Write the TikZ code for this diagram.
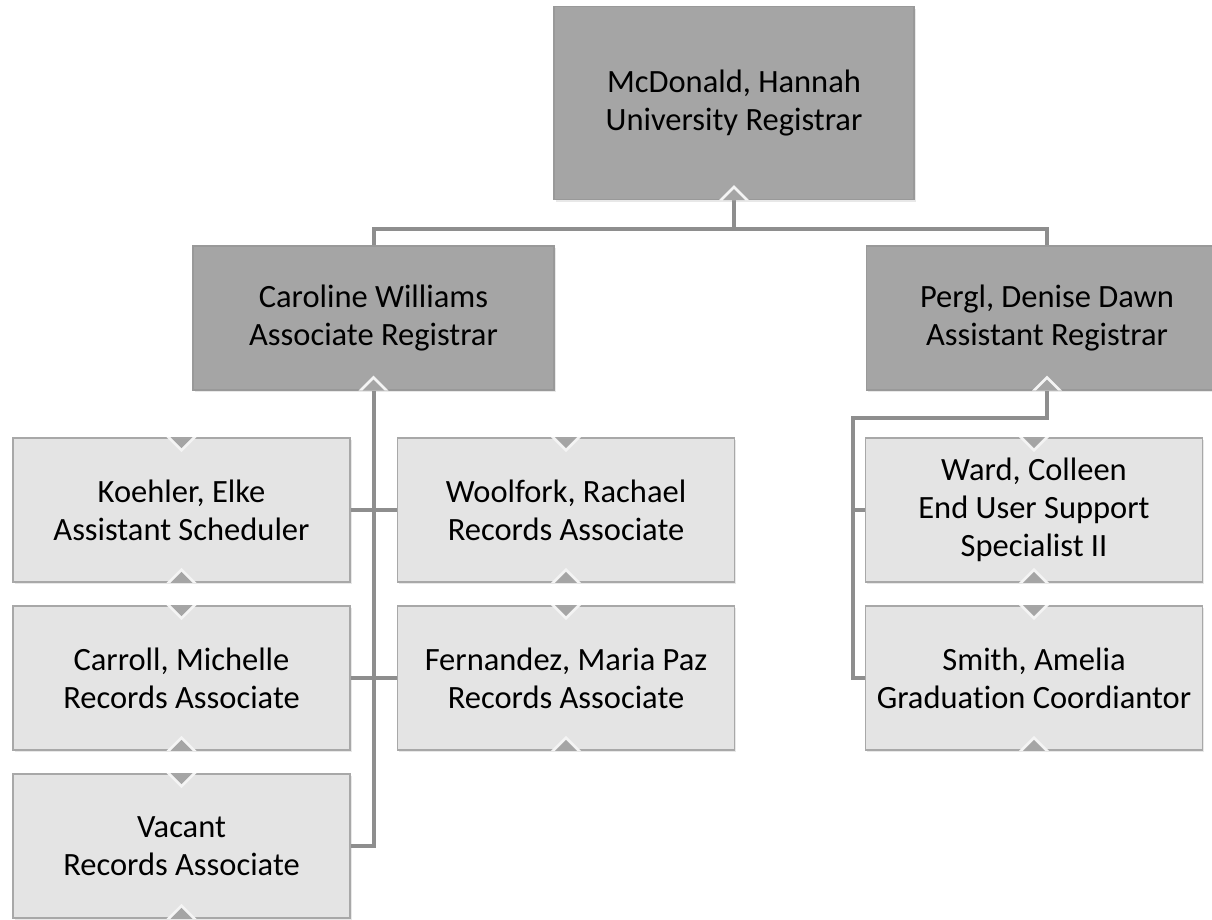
\documentclass[tikz,border=0pt]{standalone}
\usepackage{fontspec}
\setmainfont{Carlito}[Ligatures=NoCommon]
\usetikzlibrary{shadows}
\definecolor{topfill}{HTML}{A5A5A5}
\definecolor{topdraw}{HTML}{999999}
\definecolor{childfill}{HTML}{E4E4E4}
\definecolor{childdraw}{HTML}{A8A8A8}
\definecolor{linec}{HTML}{8E8E8E}
\definecolor{notchc}{HTML}{A5A5A5}
\definecolor{notchedge}{HTML}{F4F4F4}
\begin{document}
\begin{tikzpicture}[x=1pt,y=-1pt,
  box/.style={rectangle, align=center, font=\fontsize{32.5}{38}\selectfont, text=black, inner sep=0pt,
    drop shadow={shadow xshift=1.5pt, shadow yshift=-2pt, opacity=0.18}},
  topbox/.style={box, fill=topfill, draw=topdraw, line width=1.2pt, minimum width=361pt, minimum height=144pt},
  childbox/.style={box, fill=childfill, draw=childdraw, line width=1.8pt, minimum width=337pt, minimum height=144pt},
  conn/.style={draw=linec, line width=4pt},
]
\clip (0,0) rectangle (1212,919);
\fill[white] (0,0) rectangle (1212,919);

% connector points
\coordinate (bus) at (734,229);
\coordinate (pturn) at (1047,418);
\coordinate (pleft) at (853,418);

% boxes
\node[topbox, minimum width=360pt, minimum height=193pt] (mcd) at (734,103) {McDonald, Hannah\\University Registrar};
\node[topbox] (car) at (373.5,318) {Caroline Williams\\Associate Registrar};
\node[topbox] (per) at (1047,318) {Pergl, Denise Dawn\\Assistant Registrar};

\node[childbox] (koe) at (181.5,510) {Koehler, Elke\\Assistant Scheduler};
\node[childbox] (woo) at (566,510) {Woolfork, Rachael\\Records Associate};
\node[childbox] (carr) at (181.5,678) {Carroll, Michelle\\Records Associate};
\node[childbox] (fer) at (566,678) {Fernandez, Maria Paz\\Records Associate};
\node[childbox] (vac) at (181.5,846) {Vacant\\Records Associate};
\node[childbox] (war) at (1034,510) {Ward, Colleen\\End User Support\\Specialist II};
\node[childbox] (smi) at (1034,678) {Smith, Amelia\\Graduation Coordiantor};

% connector lines
\draw[conn] (mcd.south) -- (bus);
\draw[conn] (car.north) |- (bus) -| (per.north);
\draw[conn] (car.south) -- (car.south |- vac.east) -- (vac.east);
\draw[conn] (koe.east) -- (woo.west);
\draw[conn] (carr.east) -- (fer.west);
\draw[conn] (per.south) -- (pturn) -- (pleft) |- (smi.west);
\draw[conn] (pleft |- war.west) -- (war.west);

% notches: bottom (upward) on all boxes
\foreach \n in {mcd,car,per,koe,woo,carr,fer,vac,war,smi} {
  \fill[notchedge] ([xshift=-15pt]\n.south) -- ([yshift=15pt]\n.south) -- ([xshift=15pt]\n.south) -- cycle;
  \fill[notchc] ([xshift=-11pt]\n.south) -- ([yshift=11pt]\n.south) -- ([xshift=11pt]\n.south) -- cycle;
}
% notches: top (downward) on child boxes
\foreach \n in {koe,woo,carr,fer,vac,war,smi} {
  \fill[notchedge] ([xshift=-15pt]\n.north) -- ([yshift=-15pt]\n.north) -- ([xshift=15pt]\n.north) -- cycle;
  \fill[notchc] ([xshift=-11pt]\n.north) -- ([yshift=-11pt]\n.north) -- ([xshift=11pt]\n.north) -- cycle;
}
\end{tikzpicture}
\end{document}
